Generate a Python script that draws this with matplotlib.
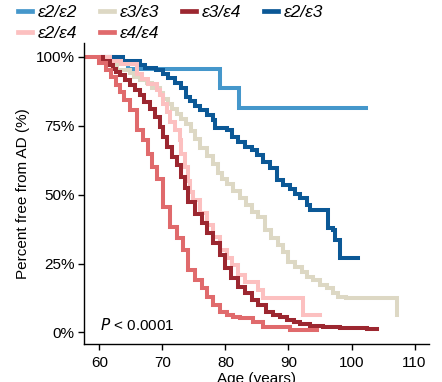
import matplotlib
matplotlib.use('Agg')
import matplotlib.pyplot as plt
from matplotlib.lines import Line2D

plt.rcParams['font.family'] = ['Liberation Sans', 'DejaVu Sans']

# Kaplan-Meier style step curves (age, percent free)
e22_age = [60.5, 62.5, 64.5, 79.2, 82.1, 102.3]
e22_pct = [100, 97.8, 95.6, 88.7, 81.4, 81.4]

e33_age = [60.5, 62.5, 62.8, 64.8, 65.5, 66.5, 67.6, 68.4, 69.6, 70.1, 70.9, 71.5,
           72.3, 73.0, 73.8, 74.5, 75.1, 76.0, 77.0, 78.0, 78.8, 79.5, 80.2, 81.2,
           82.3, 83.2, 84.2, 85.2, 86.3, 87.3, 88.4, 89.2, 90.0, 91.0, 92.1, 92.9,
           93.9, 95.0, 96.1, 97.1, 97.9, 99.2, 107.2, 107.2]
e33_pct = [100, 97.5, 95.2, 94.0, 92.8, 91.6, 90.4, 88.8, 86.8, 84.8, 83.0, 81.2,
           79.4, 77.5, 75.5, 73.0, 70.0, 67.0, 64.0, 61.0, 58.0, 55.5, 53.8, 51.2,
           48.6, 46.2, 43.8, 41.7, 37.1, 34.1, 31.7, 29.3, 25.7, 23.8, 22.0, 20.2,
           19.0, 17.2, 16.0, 14.2, 13.0, 12.4, 12.4, 6.3]

e23_age = [60.5, 63.7, 66.5, 67.3, 68.9, 70.1, 70.9, 72.0, 73.0, 73.8, 74.4, 75.2,
           76.0, 77.0, 78.1, 78.3, 80.2, 81.0, 82.0, 83.1, 84.2, 85.0, 86.0, 87.1,
           88.1, 89.2, 90.2, 91.0, 91.8, 92.9, 93.4, 96.3, 97.1, 97.4, 98.2, 101.1]
e23_pct = [100, 98.3, 97.0, 96.1, 95.2, 93.7, 92.2, 90.4, 88.6, 85.5, 84.0, 82.0,
           80.6, 79.0, 77.0, 74.0, 73.4, 70.9, 69.1, 67.3, 66.1, 64.3, 61.9, 59.5,
           55.3, 53.4, 52.2, 50.4, 48.6, 46.2, 44.4, 37.9, 37.1, 33.5, 27.0, 27.0]

e24_age = [60.5, 61.6, 63.4, 66.0, 66.7, 67.7, 69.1, 69.6, 70.1, 70.7, 71.2, 72.0,
           72.8, 73.0, 73.6, 74.0, 74.4, 74.9, 76.0, 77.0, 78.1, 79.1, 80.2, 81.0,
           82.0, 83.1, 85.2, 86.0, 92.3, 95.0]
e24_pct = [100, 98.5, 97.3, 93.9, 92.1, 90.3, 87.9, 86.0, 83.0, 80.0, 76.4, 73.4,
           69.7, 64.9, 60.1, 55.0, 51.0, 48.0, 43.5, 39.0, 34.5, 30.0, 27.0, 24.5,
           20.8, 18.4, 15.4, 12.4, 6.3, 6.3]

e34_age = [60.5, 60.6, 61.7, 62.2, 62.7, 63.3, 64.0, 64.8, 65.6, 66.4, 67.0, 68.0,
           68.8, 69.6, 70.1, 70.7, 71.5, 72.3, 73.0, 73.6, 74.1, 75.2, 76.2, 77.0,
           78.1, 79.1, 79.9, 80.9, 82.0, 83.1, 84.2, 85.2, 86.5, 87.6, 88.7, 89.7,
           90.8, 91.8, 93.4, 95.5, 98.2, 102.4, 104.0]
e34_pct = [100, 98.5, 96.9, 95.7, 94.5, 93.3, 91.5, 89.7, 87.9, 86.0, 83.6, 81.2,
           78.2, 74.6, 70.9, 67.3, 63.7, 60.7, 56.4, 52.5, 47.4, 43.0, 39.6, 35.9,
           32.3, 28.1, 23.3, 19.6, 16.6, 14.2, 11.8, 10.0, 7.5, 6.3, 5.5, 4.5,
           3.9, 3.1, 2.5, 2.1, 1.5, 1.1, 1.1]

e44_age = [57.0, 60.0, 61.0, 61.9, 62.6, 63.3, 63.9, 64.8, 65.9, 66.9, 67.7, 68.3,
           69.1, 70.1, 71.2, 72.3, 73.3, 74.1, 75.2, 76.2, 77.0, 78.1, 79.1, 80.2,
           81.2, 82.3, 84.4, 86.0, 90.2, 94.5]
e44_pct = [100, 97.6, 95.2, 92.8, 89.8, 87.2, 84.2, 80.6, 73.4, 69.7, 64.9, 60.1,
           55.5, 45.5, 38.3, 34.1, 29.9, 22.6, 19.0, 16.0, 13.0, 10.0, 7.5, 6.3,
           5.7, 5.1, 3.9, 2.1, 0.9, 0.9]

series = {
    'ε2/ε2': (e22_age, e22_pct, '#4597cb'),
    'ε3/ε3': (e33_age, e33_pct, '#ddd8c4'),
    'ε2/ε3': (e23_age, e23_pct, '#0b5896'),
    'ε2/ε4': (e24_age, e24_pct, '#fcc0c0'),
    'ε3/ε4': (e34_age, e34_pct, '#9c2730'),
    'ε4/ε4': (e44_age, e44_pct, '#e06a6c'),
}
legend_order = ['ε2/ε2', 'ε2/ε4', 'ε3/ε3', 'ε4/ε4', 'ε3/ε4', 'ε2/ε3']

fig = plt.figure(figsize=(4.42, 3.82), dpi=100)
ax = fig.add_axes([0.1907, 0.0995, 0.78, 0.7879])

for name, (age, pct, color) in series.items():
    ax.step(age, pct, where='post', color=color, linewidth=2.9,
            solid_joinstyle='miter')

ax.set_xlim(57.6, 112.3)
ax.set_ylim(-4.2, 105)
ax.set_xticks([60, 70, 80, 90, 100, 110])
ax.set_yticks([0, 25, 50, 75, 100])
ax.set_yticklabels(['0%', '25%', '50%', '75%', '100%'])
ax.tick_params(direction='out', length=4, width=1, labelsize=11, pad=3)
ax.tick_params(axis='x', pad=5)
for s in ['top', 'right']:
    ax.spines[s].set_visible(False)
for s in ['left', 'bottom']:
    ax.spines[s].set_linewidth(1)

ax.set_xlabel('Age (years)', fontsize=11, labelpad=1)
ax.set_ylabel('Percent free from AD (%)', fontsize=11, labelpad=4)

ax.text(60.1, 2.7, '$\\it{P}$ < 0.0001', fontsize=11, va='center', ha='left')

handles = [Line2D([], [], color=series[n][2], linewidth=3.4) for n in legend_order]
fig.legend(handles, legend_order, loc='upper left', bbox_to_anchor=(18 / 442, 1 - 5 / 382),
           ncol=4, frameon=False, borderpad=0, borderaxespad=0, handlelength=0.8,
           handletextpad=0.35, columnspacing=1.3, labelspacing=0.35,
           prop={'style': 'italic', 'size': 12.5})

fig.savefig('out.png', dpi=100)
